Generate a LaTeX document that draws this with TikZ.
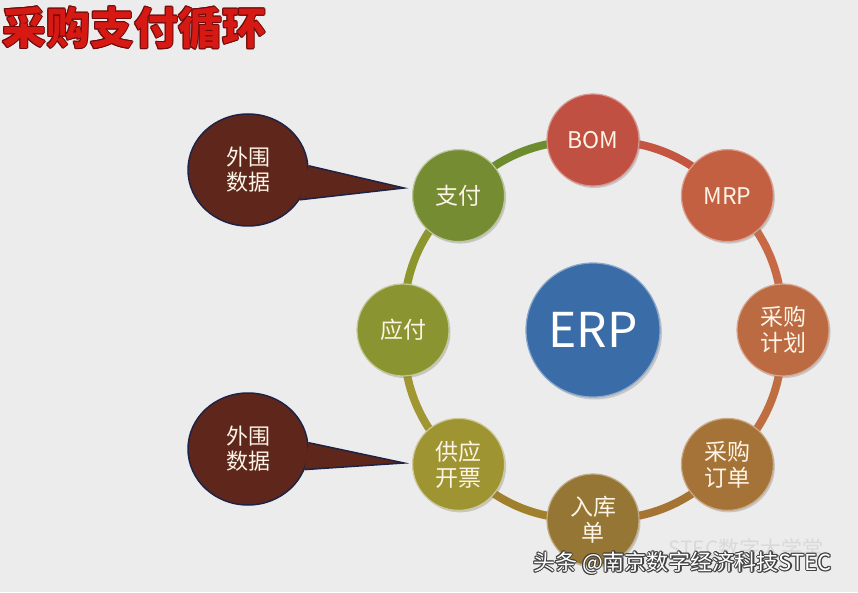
\documentclass[tikz,border=0pt]{standalone}
\usepackage{fontspec}
\newfontfamily\cjk{Noto Sans CJK SC}
\usetikzlibrary{shapes.geometric,backgrounds,shadows,calc}
\definecolor{bg}{RGB}{236,236,236}
\definecolor{txt}{RGB}{252,244,230}
\definecolor{bomc}{RGB}{192,80,66}
\definecolor{mrpc}{RGB}{196,96,66}
\definecolor{jhc}{RGB}{188,106,66}
\definecolor{ddc}{RGB}{165,115,55}
\definecolor{rkc}{RGB}{150,118,52}
\definecolor{kpc}{RGB}{158,148,50}
\definecolor{yfc}{RGB}{138,148,48}
\definecolor{zfc}{RGB}{118,140,50}
\definecolor{erpc}{RGB}{58,108,168}
\definecolor{calc}{RGB}{95,38,28}
\definecolor{navyc}{RGB}{30,35,70}
\definecolor{titlered}{RGB}{215,25,20}
\definecolor{titledark}{RGB}{110,10,10}
\definecolor{s1}{RGB}{108,140,45}
\definecolor{s2}{RGB}{195,85,65}
\definecolor{s3}{RGB}{200,105,70}
\definecolor{s4}{RGB}{190,110,65}
\definecolor{s5}{RGB}{165,115,50}
\definecolor{s6}{RGB}{160,128,45}
\definecolor{s7}{RGB}{160,150,50}
\definecolor{s8}{RGB}{140,150,45}
\tikzset{
  ringnode/.style={circle, minimum size=92pt, inner sep=0pt, align=center,
    font=\cjk\fontsize{23}{26}\selectfont, text=txt, line width=1.2pt,
    drop shadow={opacity=0.35, shadow xshift=1.5pt, shadow yshift=-2pt}},
  ringseg/.style={line width=8pt, bend left=22.5},
  callout/.style={ellipse, minimum width=120pt, minimum height=112pt, inner sep=0pt,
    align=center, fill=calc, draw=navyc, line width=1.5pt, text=txt,
    font=\cjk\fontsize{22}{25}\selectfont},
  titlefont/.style={anchor=west, inner sep=0pt, font=\cjk\bfseries\fontsize{44}{48}\selectfont},
  wmfont/.style={anchor=west, inner sep=0pt, font=\cjk\fontsize{22}{24}\selectfont}
}
\begin{document}
\begin{tikzpicture}[x=1pt,y=1pt]
\useasboundingbox (0,0) rectangle (858,592);

% title
\foreach \a in {0,45,...,315}
  \node[titlefont, text=titledark] at ($(2,564)+(\a:1.0)$) {采购支付循环};
\node[titlefont, text=titlered] (title) at (2,564) {采购支付循环};

% ring nodes
\node[ringnode, fill=bomc, draw=bomc!60!white] (bom) at (593,452) {BOM};
\node[ringnode, fill=mrpc, draw=mrpc!60!white] (mrp) at (727.4,396.4) {MRP};
\node[ringnode, fill=jhc, draw=jhc!60!white] (jh) at (783,262) {采购\\计划};
\node[ringnode, fill=ddc, draw=ddc!60!white] (dd) at (727.4,127.6) {采购\\订单};
\node[ringnode, fill=rkc, draw=rkc!60!white] (rk) at (593,72) {入库\\单};
\node[ringnode, fill=kpc, draw=kpc!50!white] (kp) at (458.6,127.6) {供应\\开票};
\node[ringnode, fill=yfc, draw=yfc!50!white] (yf) at (403,262) {应付};
\node[ringnode, fill=zfc, draw=zfc!50!white] (zf) at (458.6,396.4) {支付};
\node[circle, minimum size=134pt, inner sep=0pt, fill=erpc, draw=erpc!60!white,
  line width=1.2pt, text=white, font=\cjk\fontsize{48}{50}\selectfont,
  drop shadow={opacity=0.35, shadow xshift=2pt, shadow yshift=-2.5pt}] (erp) at (593,262) {ERP};

% background and ring
\begin{pgfonlayer}{background}
\fill[bg] (0,0) rectangle (858,592);
\draw[ringseg, s1] (zf.center) to (bom.center);
\draw[ringseg, s2] (bom.center) to (mrp.center);
\draw[ringseg, s3] (mrp.center) to (jh.center);
\draw[ringseg, s4] (jh.center) to (dd.center);
\draw[ringseg, s5] (dd.center) to (rk.center);
\draw[ringseg, s6] (rk.center) to (kp.center);
\draw[ringseg, s7] (kp.center) to (yf.center);
\draw[ringseg, s8] (yf.center) to (zf.center);
\end{pgfonlayer}

% callouts
\coordinate (tip1) at (404,404);
\coordinate (tip2) at (404,129);
\node[callout] (c1) at (248,422) {外围\\数据};
\fill[calc] (c1.4) -- (tip1) -- (c1.-30) -- cycle;
\draw[navyc, line width=1.5pt, line join=miter] (c1.4) -- (tip1) -- (c1.-30);
\node[callout] (c2) at (248,143) {外围\\数据};
\fill[calc] (c2.6) -- (tip2) -- (c2.-20) -- cycle;
\draw[navyc, line width=1.5pt, line join=miter] (c2.6) -- (tip2) -- (c2.-20);

% watermarks
\node[wmfont, text=gray!30, font=\cjk\fontsize{21}{23}\selectfont] (wm2) at (668,44) {STEC数字大学堂};
\foreach \a in {0,45,...,315}
  \node[wmfont, text=black!75] at ($(533,29)+(\a:1.1)$) {头条 @南京数字经济科技STEC};
\node[wmfont, text=white] (wm) at (533,29) {头条 @南京数字经济科技STEC};
\end{tikzpicture}
\end{document}
